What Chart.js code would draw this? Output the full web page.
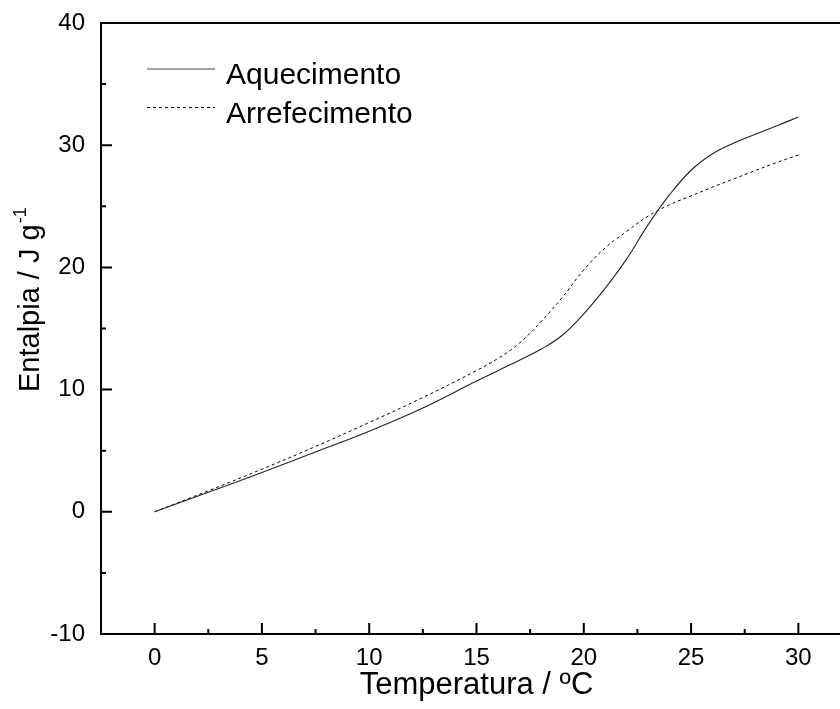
<!DOCTYPE html>
<html><head><meta charset="utf-8">
<script src="https://cdn.jsdelivr.net/npm/chart.js@4/dist/chart.umd.min.js"></script>
<style>
html,body{margin:0;padding:0;overflow:hidden;background:#fff;width:840px;height:709px}
#wrap{width:862px;height:709px;position:relative}
</style></head>
<body><div id="wrap"><canvas id="c" width="862" height="709"></canvas></div>
<script>
const temperature   = [0, 2.5, 5, 7.5, 10, 12.5, 15, 16, 17, 18, 19, 20, 21, 22, 23, 24, 25, 26, 27, 28, 29, 30];
const aquecimento   = [0, 1.6, 3.22, 4.9, 6.6, 8.5, 10.7, 11.55, 12.4, 13.3, 14.45, 16.2, 18.3, 20.7, 23.5, 25.95, 27.95, 29.3, 30.18, 30.9, 31.6, 32.3];
const arrefecimento = [0, 1.72, 3.49, 5.35, 7.31, 9.35, 11.56, 12.55, 13.8, 15.55, 17.55, 19.8, 21.6, 22.95, 24.2, 25.13, 25.85, 26.57, 27.25, 27.93, 28.59, 29.2];
const xTicks = [0, 5, 10, 15, 20, 25, 30];
const yTicks = [-10, 0, 10, 20, 30, 40];
const seriesLabels = ['Aquecimento', 'Arrefecimento'];
const xTitle = 'Temperatura / ºC';
const yTitle = 'Entalpia / J g';
const yTitleSup = '-1';

const FONT = "'Liberation Sans', Arial, sans-serif";

const framePlugin = {
  id: 'frame',
  afterDraw(chart) {
    const {ctx, chartArea: a, scales: {x, y}} = chart;
    ctx.save();
    ctx.strokeStyle = '#000';
    ctx.lineWidth = 2;
    ctx.strokeRect(a.left, a.top, a.right - a.left, a.bottom - a.top);
    ctx.beginPath();
    xTicks.forEach(v => {
      const p = x.getPixelForValue(v);
      ctx.moveTo(p, a.bottom); ctx.lineTo(p, a.bottom - 11);
    });
    for (let i = 0; i < xTicks.length; i++) {
      const v = xTicks[i] + (xTicks[1] - xTicks[0]) / 2;
      if (v < x.max) { const p = x.getPixelForValue(v); ctx.moveTo(p, a.bottom); ctx.lineTo(p, a.bottom - 5); }
    }
    yTicks.forEach(v => {
      const p = y.getPixelForValue(v);
      ctx.moveTo(a.left, p); ctx.lineTo(a.left + 11, p);
    });
    for (let i = 0; i < yTicks.length - 1; i++) {
      const v = yTicks[i] + (yTicks[1] - yTicks[0]) / 2;
      const p = y.getPixelForValue(v);
      ctx.moveTo(a.left, p); ctx.lineTo(a.left + 5, p);
    }
    ctx.stroke();

    // legend
    ctx.lineWidth = 1;
    ctx.fillStyle = '#000';
    ctx.font = '30px ' + FONT;
    ctx.textBaseline = 'alphabetic';
    ctx.textAlign = 'left';
    const rows = [{y: 69, base: 83.5, dash: []}, {y: 107.5, base: 122.5, dash: [3, 3]}];
    chart.data.datasets.forEach((ds, i) => {
      const r = rows[i];
      ctx.strokeStyle = i === 0 ? '#444' : '#000';
      ctx.setLineDash(r.dash);
      ctx.beginPath(); ctx.moveTo(147, r.y); ctx.lineTo(215, r.y); ctx.stroke();
      ctx.setLineDash([]);
      ctx.fillText(ds.label, 226, r.base);
    });

    // y title
    ctx.translate(39, 392);
    ctx.rotate(-Math.PI / 2);
    ctx.font = '29px ' + FONT;
    ctx.fillText(yTitle, 0, 0);
    const w = ctx.measureText(yTitle).width;
    ctx.font = '18px ' + FONT;
    ctx.fillText(yTitleSup, w + 1, -13);
    ctx.restore();
  }
};

const mk = arr => temperature.map((t, i) => ({x: t, y: arr[i]}));

new Chart(document.getElementById('c'), {
  type: 'line',
  data: {
    datasets: [
      {label: seriesLabels[0], data: mk(aquecimento), borderColor: '#222', borderWidth: 1.1, pointRadius: 0, tension: 0.4, fill: false},
      {label: seriesLabels[1], data: mk(arrefecimento), borderColor: '#000', borderWidth: 1, borderDash: [3, 3], pointRadius: 0, tension: 0.4, fill: false}
    ]
  },
  options: {
    responsive: false, animation: false, devicePixelRatio: 1,
    layout: {padding: {top: 23, right: 10, left: 0, bottom: 0}},
    plugins: {legend: {display: false}, tooltip: {enabled: false}},
    scales: {
      x: {
        type: 'linear', min: -2.5, max: 32.5,
        afterBuildTicks: s => { s.ticks = xTicks.map(v => ({value: v})); },
        afterFit: s => { s.height = 75; },
        grid: {display: false}, border: {display: false},
        ticks: {font: {family: FONT, size: 24}, color: '#000', padding: 2, maxRotation: 0, autoSkip: false},
        title: {display: true, text: xTitle, font: {family: FONT, size: 31}, color: '#000', padding: {top: 0, bottom: 5}}
      },
      y: {
        type: 'linear', min: -10, max: 40,
        afterBuildTicks: s => { s.ticks = yTicks.map(v => ({value: v})); },
        afterFit: s => { s.width = 101; },
        grid: {display: false}, border: {display: false},
        ticks: {font: {family: FONT, size: 24}, color: '#000', padding: 8, autoSkip: false}
      }
    }
  },
  plugins: [framePlugin]
});
</script>
</body></html>
